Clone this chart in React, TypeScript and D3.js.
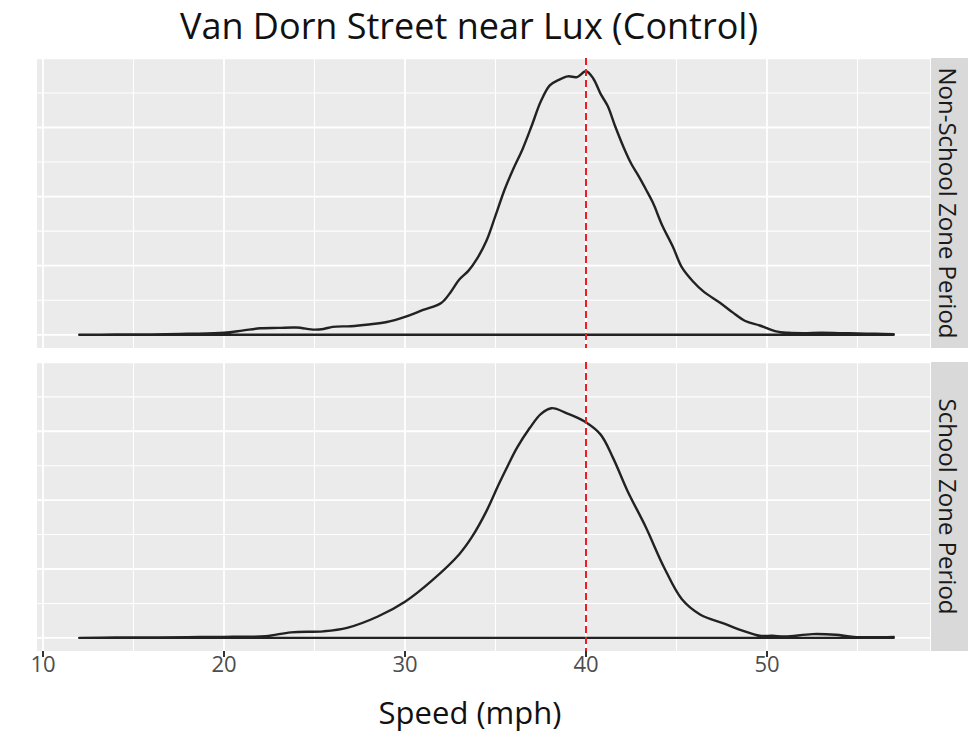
import React from "react";
import * as d3 from "d3";

const title = "Van Dorn Street near Lux (Control)";
const xLabel = "Speed (mph)";
const panelNames = ["Non-School Zone Period", "School Zone Period"];
const xTicks = [10, 20, 30, 40, 50];
const xMinor = [15, 25, 35, 45, 55];
const yGrid = [0, 0.01, 0.02, 0.03, 0.04, 0.05, 0.06, 0.07, 0.08];
const speedLimit = 40;

const nonSchoolSpeed = [12, 14, 16, 18, 20, 21, 22, 23, 24, 25, 25.5, 26, 27, 28, 29, 30, 31, 32, 32.5, 33, 33.5, 34, 34.5, 35, 35.5, 36, 36.5, 37, 37.5, 38, 38.5, 39, 39.5, 40, 40.4, 40.8, 41.2, 41.6, 42.1, 42.5, 42.9, 43.3, 43.7, 44.2, 44.8, 45.3, 45.9, 46.5, 47.4, 48.1, 48.8, 49.6, 50.5, 51.2, 52, 53, 54, 55, 56, 57];
const nonSchoolDensity = [0, 0.0001, 0.0001, 0.0003, 0.0006, 0.0012, 0.0019, 0.002, 0.0021, 0.0015, 0.0017, 0.0023, 0.0025, 0.003, 0.0037, 0.0052, 0.0072, 0.0092, 0.0122, 0.016, 0.0185, 0.0222, 0.0272, 0.0345, 0.042, 0.0482, 0.0538, 0.0605, 0.0675, 0.0722, 0.0738, 0.0748, 0.0746, 0.0763, 0.0742, 0.0698, 0.0662, 0.0605, 0.054, 0.0495, 0.046, 0.0422, 0.0382, 0.0318, 0.0255, 0.0195, 0.0155, 0.0125, 0.0093, 0.0065, 0.004, 0.0027, 0.001, 0.0006, 0.0005, 0.0006, 0.0005, 0.0004, 0.0003, 0.0002];

const schoolSpeed = [12, 14, 16, 18, 20, 22.3, 23.7, 25.5, 26.8, 28.5, 30, 31.5, 33, 33.7, 34.5, 35.2, 35.7, 36.2, 36.9, 37.5, 38.1, 38.95, 39.9, 40.8, 41.5, 42.3, 43.3, 44.3, 45.3, 46.3, 47.6, 48.6, 49.6, 50.3, 51, 52.5, 53.8, 54.8, 57];
const schoolDensity = [0, 0.0001, 0.0001, 0.0002, 0.0003, 0.0005, 0.0016, 0.0019, 0.0029, 0.0062, 0.0105, 0.0167, 0.0243, 0.0293, 0.0368, 0.0448, 0.0502, 0.0553, 0.061, 0.065, 0.0667, 0.0652, 0.0629, 0.0591, 0.0522, 0.0426, 0.0322, 0.0206, 0.0112, 0.0068, 0.0042, 0.0022, 0.0006, 0.0006, 0.0004, 0.0011, 0.0009, 0.0003, 0.0003];

const W = 968;
const H = 746;
const panelLeft = 37;
const panelRight = 930;
const stripW = 40;
const panels = [
  { top: 58, bottom: 348 },
  { top: 362, bottom: 651 },
];

const ymax = 0.0763;

export default function App() {
  const x = d3.scaleLinear().domain([10, 50]).range([43, 767]);
  const series = [
    { speed: nonSchoolSpeed, dens: nonSchoolDensity },
    { speed: schoolSpeed, dens: schoolDensity },
  ];
  const font = "'Open Sans', 'DejaVu Sans', sans-serif";

  return (
    <div style={{ position: "absolute", left: 0, top: 0 }}>
      <svg width={W} height={H} style={{ display: "block", background: "#fff" }}>
        <text x={469} y={39} textAnchor="middle" fontFamily={font} fontSize={36} fill="#111">
          {title}
        </text>
        {panels.map((p, i) => {
          const h = p.bottom - p.top;
          const pad = (h / 1.1) * 0.05;
          const y = d3.scaleLinear().domain([0, ymax]).range([p.bottom - pad, p.top + pad]);
          const s = series[i];
          const pts: [number, number][] = s.speed.map((v, k) => [v, s.dens[k]]);
          const line = d3
            .line<[number, number]>()
            .x((d) => x(d[0]))
            .y((d) => y(d[1]))
            .curve(d3.curveCatmullRom.alpha(0.5));
          const d = line(pts) + `L${x(s.speed[s.speed.length - 1])},${y(0)}L${x(s.speed[0])},${y(0)}Z`;
          return (
            <g key={i}>
              <rect x={panelLeft} y={p.top} width={panelRight - panelLeft} height={h} fill="#ebebeb" />
              <clipPath id={`clip${i}`}>
                <rect x={panelLeft} y={p.top} width={panelRight - panelLeft} height={h} />
              </clipPath>
              <g clipPath={`url(#clip${i})`}>
                {yGrid.map((g, k) => (
                  <line key={`h${k}`} x1={panelLeft} x2={panelRight} y1={y(g)} y2={y(g)} stroke="#fff" strokeWidth={k % 2 === 0 ? 1.8 : 1.1} />
                ))}
                {xMinor.map((g) => (
                  <line key={`m${g}`} x1={x(g)} x2={x(g)} y1={p.top} y2={p.bottom} stroke="#fff" strokeWidth={1.1} />
                ))}
                {xTicks.map((g) => (
                  <line key={`v${g}`} x1={x(g)} x2={x(g)} y1={p.top} y2={p.bottom} stroke="#fff" strokeWidth={1.8} />
                ))}
                <path d={d} fill="none" stroke="#222" strokeWidth={2.4} strokeLinejoin="round" />
                <line x1={x(speedLimit)} x2={x(speedLimit)} y1={p.top} y2={p.bottom} stroke="#ee1c25" strokeWidth={2} strokeDasharray="7,4" />
              </g>
              <rect x={panelRight + 1} y={p.top} width={stripW} height={h} fill="#d9d9d9" />
              <text
                transform={`translate(${panelRight + 1 + stripW / 2 - 3},${(p.top + p.bottom) / 2}) rotate(90)`}
                textAnchor="middle"
                dominantBaseline="central"
                fontFamily={font}
                fontSize={24}
                fill="#1a1a1a"
              >
                {panelNames[i]}
              </text>
            </g>
          );
        })}
        {xTicks.map((t) => (
          <g key={t}>
            <line x1={x(t)} x2={x(t)} y1={651} y2={657} stroke="#333" strokeWidth={2} />
            <text x={x(t)} y={672} textAnchor="middle" fontFamily={font} fontSize={22} fill="#4d4d4d">
              {t}
            </text>
          </g>
        ))}
        <text x={470} y={724} textAnchor="middle" fontFamily={font} fontSize={31} fill="#111">
          {xLabel}
        </text>
      </svg>
    </div>
  );
}
